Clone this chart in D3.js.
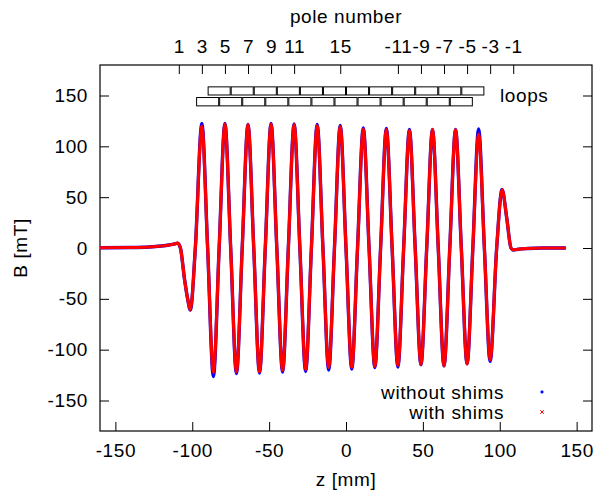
<!DOCTYPE html>
<html>
<head>
<meta charset="utf-8">
<script src="https://cdn.jsdelivr.net/npm/d3@7"></script>
<style>
  body { margin: 0; background: #fff; }
  svg { display: block; font-family: "Liberation Sans", Arial, sans-serif; }
  svg text { letter-spacing: 0.6px; }
</style>
</head>
<body>
<div class="chart"></div>
<script>
// knot positions along z (mm): extrema and zero crossings
const zKnots = [-160, -140, -128, -120, -115, -111.5, -109.5, -107.7, -105, -103, -101.25, -98,
  -93.75, -90, -86.25, -82.5, -78.75, -75, -71.25, -67.5, -63.75, -60, -56.25, -52.5,
  -48.75, -45, -41.25, -37.5, -33.75, -30, -26.25, -22.5, -18.75, -15, -11.25, -7.5,
  -3.75, 0, 3.75, 7.5, 11.25, 15, 18.75, 22.5, 26.25, 30, 33.75, 37.5,
  41.25, 45, 48.75, 52.5, 56.25, 60, 63.75, 67.5, 71.25, 75, 78.75, 82.5,
  86.25, 90, 93.75, 98, 101.5, 104.5, 107.3, 108.8, 112, 118, 128, 143];

const withShims = [0.3, 0.5, 1, 2, 3, 4, 4.8, 0, -31, -50, -61, 0,
  120, 0, -122.5, 0, 122, 0, -122, 0, 121.5, 0, -122, 0,
  122, 0, -120.5, 0, 121.5, 0, -119.5, 0, 120.5, 0, -117.5, 0,
  119.5, 0, -117.5, 0, 117, 0, -116.5, 0, 116.5, 0, -115.5, 0,
  115.5, 0, -114.5, 0, 116.5, 0, -116, 0, 116.5, 0, -114, 0,
  112, 0, -110, 0, 57.5, 30, 0, -2, -1.2, -0.5, 0, 0];

const withoutShims = [0.3, 0.5, 1, 2, 3, 4, 4.8, 0, -31, -50, -61, 0,
  122.5, 0, -126.5, 0, 122.5, 0, -123.5, 0, 121.5, 0, -123, 0,
  122.5, 0, -122, 0, 122, 0, -121.5, 0, 121.5, 0, -120, 0,
  120.5, 0, -119, 0, 118, 0, -117.5, 0, 117.5, 0, -117, 0,
  116.5, 0, -115, 0, 116.5, 0, -116, 0, 116.5, 0, -114, 0,
  117, 0, -111.5, 0, 57.5, 30, 0, -2, -1.2, -0.5, 0, 0];

const xTicks = [-150, -100, -50, 0, 50, 100, 150];
const yTicks = [-150, -100, -50, 0, 50, 100, 150];

const polePositions = [-108.75, -93.75, -78.75, -63.75, -48.75, -33.75, -3.75,
  33.75, 48.75, 63.75, 78.75, 93.75, 108.75];
const poleLabels = ['1', '3', '5', '7', '9', '11', '15', '-11', '-9', '-7', '-5', '-3', '-1'];

// loop coils: start z of each box (mm), two staggered rows
const upperLoops = [-90, -75, -60, -45, -30, -15, 0, 15, 30, 45, 60, 75];
const lowerLoops = [-97.5, -82.5, -67.5, -52.5, -37.5, -22.5, -7.5, 7.5, 22.5, 37.5, 52.5, 67.5];
const loopLength = 15;
const upperBand = [150.5, 158.5];
const lowerBand = [139.8, 148];

const margin = { top: 65, right: 5, bottom: 62, left: 100 };
const width = 597 - margin.left - margin.right;
const height = 493 - margin.top - margin.bottom;

const svg = d3
  .select('.chart')
  .append('svg')
  .attr('width', 597)
  .attr('height', 493)
  .append('g')
  .attr('transform', `translate(${margin.left}, ${margin.top})`);

const xScale = d3.scaleLinear().domain([-160, 160]).range([0, width]);
const yScale = d3.scaleLinear().domain([-180, 180]).range([height, 0]);

const fontSize = '19px';
const plain = d => String(d); // hyphen minus like the original

function styleAxis(g) {
  g.select('.domain').remove();
  g.selectAll('.tick line').attr('stroke', '#000').attr('stroke-width', 1);
  g.selectAll('.tick text').attr('fill', '#000').style('font-size', fontSize);
  g.attr('font-family', null).attr('font-size', null);
}

svg
  .append('g')
  .attr('transform', `translate(0, ${height})`)
  .call(d3.axisBottom(xScale).tickValues(xTicks).tickFormat(plain).tickSizeInner(-9).tickSizeOuter(0).tickPadding(13))
  .call(styleAxis);

svg
  .append('g')
  .call(d3.axisLeft(yScale).tickValues(yTicks).tickFormat(plain).tickSizeInner(-9).tickSizeOuter(0).tickPadding(12))
  .call(styleAxis);

svg
  .append('g')
  .attr('transform', `translate(${width}, 0)`)
  .call(d3.axisRight(yScale).tickValues(yTicks).tickSizeInner(-9).tickSizeOuter(0).tickFormat(''))
  .call(styleAxis);

svg
  .append('g')
  .call(
    d3
      .axisTop(xScale)
      .tickValues(polePositions)
      .tickFormat((d, i) => poleLabels[i])
      .tickSizeInner(-9)
      .tickSizeOuter(0)
      .tickPadding(12),
  )
  .call(styleAxis);

// frame
svg
  .append('rect')
  .attr('x', 0)
  .attr('y', 0)
  .attr('width', width)
  .attr('height', height)
  .attr('fill', 'none')
  .attr('stroke', '#000')
  .attr('stroke-width', 1.2);

// loops
function drawLoops(starts, band) {
  svg
    .append('g')
    .selectAll('rect')
    .data(starts)
    .enter()
    .append('rect')
    .attr('x', d => xScale(d) + 0.5)
    .attr('y', yScale(band[1]))
    .attr('width', xScale(d3.min(starts) + loopLength) - xScale(d3.min(starts)) - 1)
    .attr('height', yScale(band[0]) - yScale(band[1]))
    .attr('fill', '#fff')
    .attr('stroke', '#000')
    .attr('stroke-width', 1);
}
drawLoops(upperLoops, upperBand);
drawLoops(lowerLoops, lowerBand);

svg
  .append('text')
  .attr('x', 400)
  .attr('y', yScale(upperBand[0]) + 7)
  .style('font-size', fontSize)
  .text('loops');

// field curves
const line = d3
  .line()
  .x(d => xScale(d[0]))
  .y(d => yScale(d[1]))
  .curve(d3.curveMonotoneX);

svg
  .append('path')
  .datum(d3.zip(zKnots, withoutShims))
  .attr('d', line)
  .attr('fill', 'none')
  .attr('stroke', '#0000ff')
  .attr('stroke-width', 3.4);

svg
  .append('path')
  .datum(d3.zip(zKnots, withShims))
  .attr('d', line)
  .attr('fill', 'none')
  .attr('stroke', '#ff0000')
  .attr('stroke-width', 3.1);

// axis titles
svg
  .append('text')
  .attr('x', width / 2)
  .attr('y', -42)
  .attr('text-anchor', 'middle')
  .style('font-size', fontSize)
  .text('pole number');

svg
  .append('text')
  .attr('x', width / 2)
  .attr('y', height + 55)
  .attr('text-anchor', 'middle')
  .style('font-size', fontSize)
  .text('z [mm]');

svg
  .append('text')
  .attr('transform', `translate(-73, ${height / 2}) rotate(-90)`)
  .attr('text-anchor', 'middle')
  .style('font-size', fontSize)
  .text('B [mT]');

// legend
const legendItems = [
  { label: 'without shims', color: '#0000ff', symbol: d3.symbolCircle, size: 4 },
  { label: 'with shims', color: '#ff0000', symbol: d3.symbolTimes, size: 10 },
];
const legend = svg
  .selectAll('.legend')
  .data(legendItems)
  .enter()
  .append('g')
  .attr('class', 'legend')
  .attr('transform', (d, i) => `translate(0, ${327 + i * 20})`);
legend
  .append('text')
  .attr('x', 404)
  .attr('y', 7)
  .attr('text-anchor', 'end')
  .style('font-size', fontSize)
  .text(d => d.label);
legend
  .append('path')
  .attr('transform', 'translate(442, 0)')
  .attr('d', d => d3.symbol().type(d.symbol).size(d.size)())
  .attr('fill', d => (d.symbol === d3.symbolCircle ? d.color : 'none'))
  .attr('stroke', d => d.color)
  .attr('stroke-width', 1);
</script>
</body>
</html>
